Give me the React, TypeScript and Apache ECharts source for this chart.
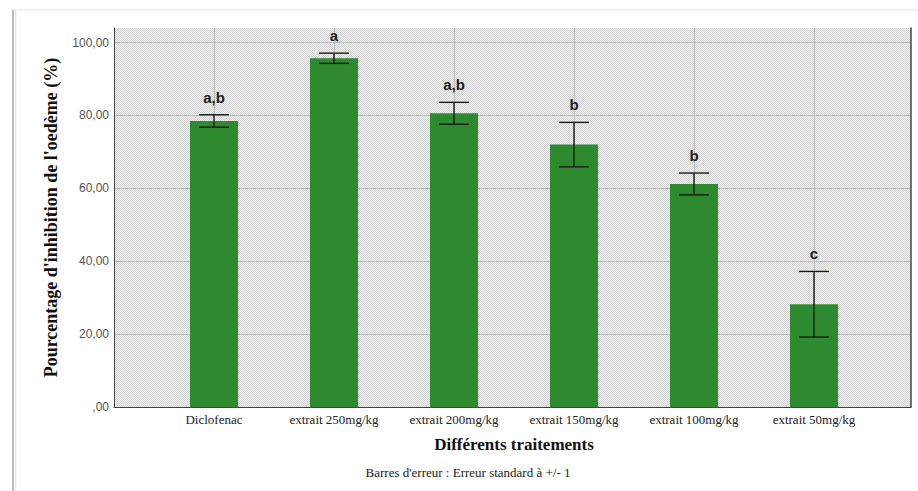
import React, { useEffect, useRef } from "react";
import * as echarts from "echarts";

// Treatments on the x axis
const categories = [
  "Diclofenac",
  "extrait 250mg/kg",
  "extrait 200mg/kg",
  "extrait 150mg/kg",
  "extrait 100mg/kg",
  "extrait 50mg/kg",
];
// Mean inhibition of oedema (%)
const means = [78.5, 95.7, 80.6, 72.0, 61.2, 28.2];
// Standard error (+/- 1 SE)
const stdErrors = [1.7, 1.4, 3.0, 6.1, 3.0, 9.0];
// Statistical group letters shown above each bar
const groupLetters = ["a,b", "a", "a,b", "b", "b", "c"];
// Y axis scale
const yMin = 0;
const yMax = 104;
const yStep = 20;

// Fine dotted fill of the plot area
const dotPattern =
  "data:image/svg+xml;utf8," +
  encodeURIComponent(
    '<svg xmlns="http://www.w3.org/2000/svg" width="2" height="2">' +
      '<rect width="2" height="2" fill="#f1f1f1"/>' +
      '<rect width="1" height="1" fill="#d4d4d4"/>' +
      '<rect x="1" y="1" width="1" height="1" fill="#d4d4d4"/>' +
      "</svg>"
  );

const formatTick = (v: number) => {
  if (v % yStep !== 0) return "";
  if (v === 0) return ",00";
  return v.toFixed(2).replace(".", ",");
};

export default function App() {
  const ref = useRef<HTMLDivElement>(null);

  useEffect(() => {
    if (!ref.current) return;
    const chart = echarts.init(ref.current, null, { renderer: "svg" });

    const errorData = means.map((m, i) => [i, m, stdErrors[i]]);

    chart.setOption({
      animation: false,
      backgroundColor: "#ffffff",
      grid: [
        {
          left: 114,
          right: 7,
          top: 28,
          bottom: 84,
          show: true,
          borderWidth: 0,
          backgroundColor: {
            image: dotPattern,
            repeat: "repeat",
            imageWidth: 2,
            imageHeight: 2,
          },
        },
        { left: 154, right: 44, top: 28, bottom: 84 },
      ],
      xAxis: [
        {
          type: "value",
          gridIndex: 0,
          min: 0,
          max: 1,
          axisLine: { show: true, lineStyle: { color: "#444", width: 1 } },
          axisTick: { show: false },
          axisLabel: { show: false },
          splitLine: { show: false },
        },
        {
          type: "category",
          gridIndex: 1,
          data: categories,
          axisLine: { show: false },
          axisTick: { show: false },
          axisLabel: {
            margin: 6,
            fontFamily: "Liberation Serif",
            fontSize: 13,
            color: "#222",
          },
          name: "Différents traitements",
          nameLocation: "middle",
          nameGap: 29,
          nameTextStyle: {
            fontFamily: "Liberation Serif",
            fontWeight: "bold",
            fontSize: 17,
            color: "#111",
          },
        },
      ],
      yAxis: [
        {
          type: "value",
          gridIndex: 0,
          min: yMin,
          max: yMax,
          interval: yStep,
          axisLine: { show: true, lineStyle: { color: "#444", width: 1 } },
          axisTick: { show: false },
          axisLabel: {
            formatter: formatTick,
            showMaxLabel: false,
            margin: 5,
            fontFamily: "Liberation Sans",
            fontSize: 12,
            color: "#555",
          },
          splitLine: {
            show: true,
            showMaxLine: false,
            lineStyle: { color: "#bcbcbc", width: 1 },
          },
          name: "Pourcentage d'inhibition de l'oedème (%)",
          nameLocation: "middle",
          nameGap: 54,
          nameTextStyle: {
            fontFamily: "Liberation Serif",
            fontWeight: "bold",
            fontSize: 18,
            color: "#111",
          },
        },
        {
          type: "value",
          gridIndex: 0,
          position: "right",
          min: yMin,
          max: yMax,
          interval: yStep,
          axisLine: { show: true, lineStyle: { color: "#444", width: 1.5 } },
          axisTick: { show: false },
          axisLabel: { show: false },
          splitLine: { show: false },
        },
        {
          type: "value",
          gridIndex: 1,
          min: yMin,
          max: yMax,
          interval: yStep,
          show: false,
          splitLine: { show: false },
        },
      ],
      series: [
        {
          type: "bar",
          xAxisIndex: 1,
          yAxisIndex: 2,
          data: means,
          barWidth: 48,
          itemStyle: { color: "#2e8a2e" },
          z: 2,
          markLine: {
            silent: true,
            symbol: "none",
            z: 1,
            label: { show: false },
            lineStyle: { color: "#bcbcbc", type: "solid", width: 1 },
            data: categories.map((c) => ({ xAxis: c })),
          },
        },
        {
          type: "custom",
          xAxisIndex: 1,
          yAxisIndex: 2,
          data: errorData,
          z: 3,
          renderItem: (params: any, api: any) => {
            const idx = api.value(0);
            const m = api.value(1);
            const se = api.value(2);
            const top = api.coord([idx, m + se]);
            const bot = api.coord([idx, m - se]);
            const x = top[0];
            const half = 15;
            const stroke = { stroke: "#1a1a1a", lineWidth: 1.4 };
            return {
              type: "group",
              children: [
                { type: "line", shape: { x1: x, y1: top[1], x2: x, y2: bot[1] }, style: stroke },
                { type: "line", shape: { x1: x - half, y1: top[1], x2: x + half, y2: top[1] }, style: stroke },
                { type: "line", shape: { x1: x - half, y1: bot[1], x2: x + half, y2: bot[1] }, style: stroke },
                {
                  type: "text",
                  x: x,
                  y: top[1] - 10,
                  style: {
                    text: groupLetters[params.dataIndex],
                    fontFamily: "Liberation Sans",
                    fontWeight: "bold",
                    fontSize: 15,
                    fill: "#222",
                    align: "center",
                    verticalAlign: "bottom",
                  },
                },
              ],
            };
          },
        },
      ],
      graphic: [
        {
          type: "line",
          shape: { x1: 13, y1: 10, x2: 918, y2: 10 },
          style: { stroke: "#e2e2e2", lineWidth: 1 },
        },
        {
          type: "line",
          shape: { x1: 13, y1: 10, x2: 13, y2: 491 },
          style: { stroke: "#bdbdbd", lineWidth: 2 },
        },
        {
          type: "line",
          shape: { x1: 15.5, y1: 11, x2: 15.5, y2: 491 },
          style: { stroke: "#e6e6e6", lineWidth: 1.5 },
        },
        {
          type: "text",
          x: 468,
          y: 472,
          style: {
            text: "Barres d'erreur : Erreur standard à +/- 1",
            fontFamily: "Liberation Serif",
            fontSize: 13,
            fill: "#222",
            align: "center",
            verticalAlign: "middle",
          },
        },
      ],
    });

    return () => chart.dispose();
  }, []);

  return (
    <div
      ref={ref}
      style={{ position: "fixed", left: 0, top: 0, width: 918, height: 491, background: "#fff" }}
    />
  );
}
